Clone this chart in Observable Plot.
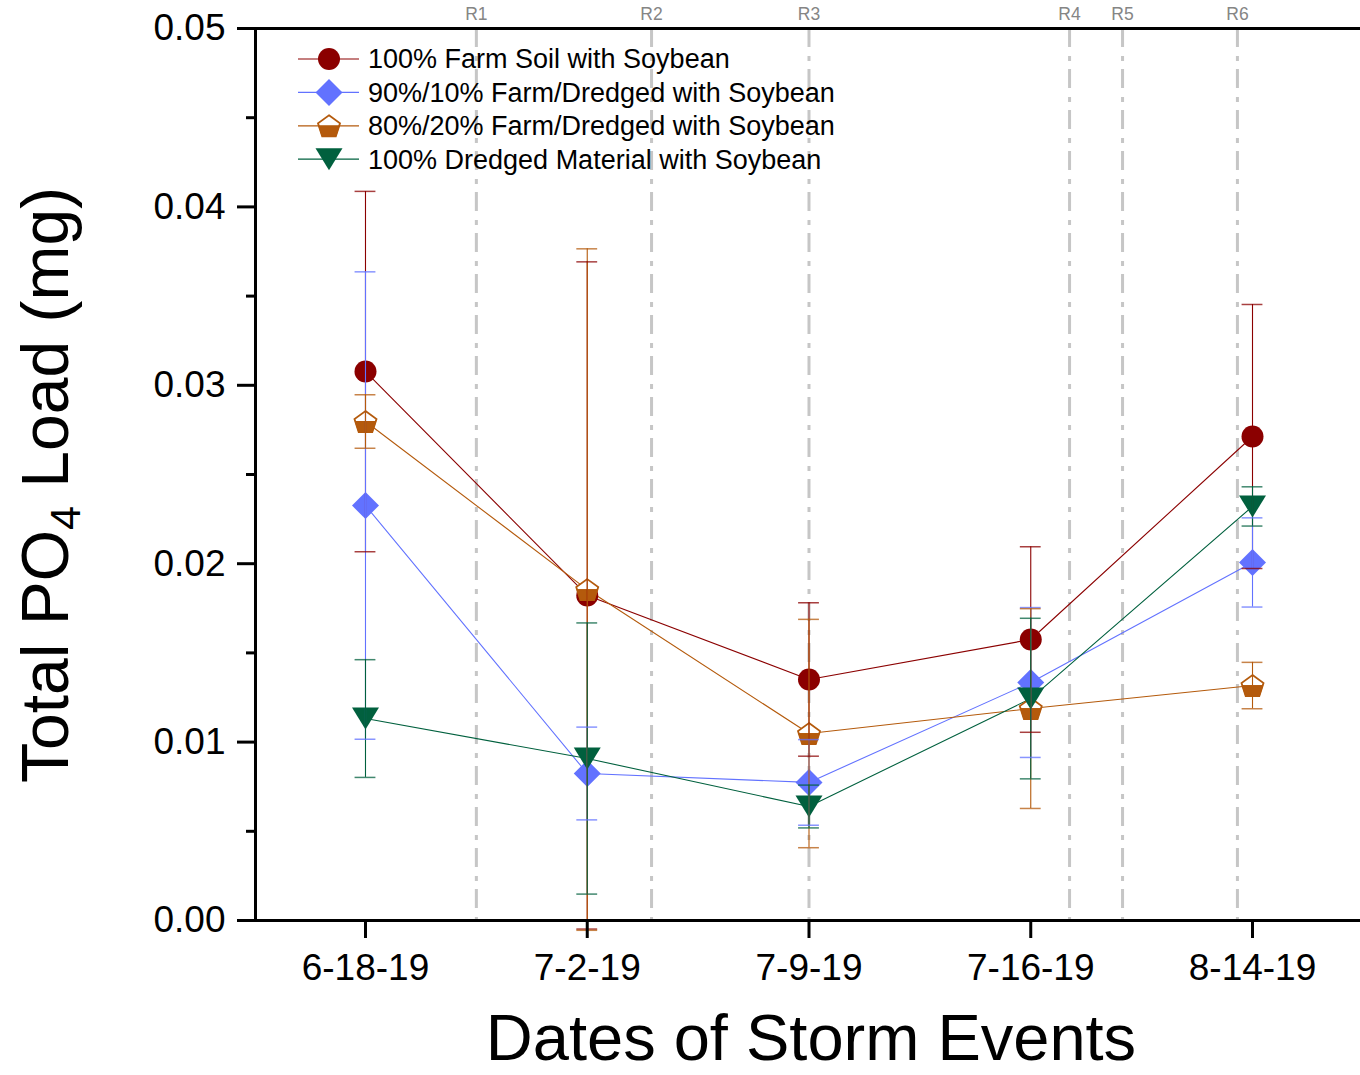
<!DOCTYPE html>
<html><head><meta charset="utf-8">
<script src="https://cdn.jsdelivr.net/npm/d3@7"></script>
<script src="https://cdn.jsdelivr.net/npm/@observablehq/plot@0.6"></script>
<style>
body{margin:0;background:#fff}
#chart{position:relative;width:1360px;height:1075px}
</style>
</head><body><div id="chart"></div>
<script>
// ---- data ----
const dates = ["6-18-19", "7-2-19", "7-9-19", "7-16-19", "8-14-19"];
const seriesNames = [
  "100% Farm Soil with Soybean",
  "90%/10% Farm/Dredged with Soybean",
  "80%/20% Farm/Dredged with Soybean",
  "100% Dredged Material with Soybean"
];
const farmMean = [0.03077, 0.01822, 0.01351, 0.01575, 0.02713];
const farmErr  = [0.0101, 0.0187, 0.0043, 0.0052, 0.0074];
const mix90Mean = [0.02326, 0.00824, 0.00774, 0.01334, 0.02007];
const mix90Err  = [0.0131, 0.0026, 0.0024, 0.0042, 0.0025];
const mix80Mean = [0.02797, 0.01855, 0.01048, 0.01188, 0.01317];
const mix80Err  = [0.0015, 0.0191, 0.0064, 0.0056, 0.0013];
const dredgedMean = [0.01132, 0.00908, 0.00639, 0.01244, 0.02321];
const dredgedErr  = [0.0033, 0.0076, 0.0012, 0.0045, 0.0011];
const rainLabels = ["R1", "R2", "R3", "R4", "R5", "R6"];
const rainPos = [0.5, 1.29, 2.0, 3.175, 3.414, 3.932];
const yTicks = [0, 0.01, 0.02, 0.03, 0.04, 0.05];
const yMinor = [0.005, 0.015, 0.025, 0.035, 0.045];

// ---- styles ----
const colors = ["#8B0000", "#6272FF", "#B45A0C", "#01603E"];
const FONT = "Liberation Sans, Arial, Helvetica, sans-serif";

const means = [farmMean, mix90Mean, mix80Mean, dredgedMean];
const errs = [farmErr, mix90Err, mix80Err, dredgedErr];
const rows = [];
seriesNames.forEach((s, k) => {
  dates.forEach((d, i) => {
    rows.push({series: s, k, i, mean: means[k][i], lo: means[k][i] - errs[k][i], hi: means[k][i] + errs[k][i]});
  });
});

// custom symbols (size = pi r^2)
const rOf = size => Math.sqrt(size / Math.PI);
const diamondSym = {draw(c, size) { const r = rOf(size); c.moveTo(0, -r); c.lineTo(r, 0); c.lineTo(0, r); c.lineTo(-r, 0); c.closePath(); }};
const triDownSym = {draw(c, size) { const r = rOf(size), h = 0.815 * r; c.moveTo(-r, -h); c.lineTo(r, -h); c.lineTo(0, h); c.closePath(); }};
const pentOutline = {draw(c, size) {
  const R = rOf(size) / 0.951, s = 0.0955 * R;
  for (let j = 0; j < 5; j++) {
    const a = -Math.PI / 2 + j * 2 * Math.PI / 5;
    const x = R * Math.cos(a), y = R * Math.sin(a) + s;
    j ? c.lineTo(x, y) : c.moveTo(x, y);
  }
  c.closePath();
}};
const pentBottom = {draw(c, size) {
  const R = rOf(size) / 0.951;
  c.moveTo(0.8817 * R, 0); c.lineTo(0.588 * R, 0.9045 * R); c.lineTo(-0.588 * R, 0.9045 * R); c.lineTo(-0.8817 * R, 0); c.closePath();
}};

const xDomain = [-0.496, 4.487];
const capW = 0.047;

const byK = k => rows.filter(d => d.k === k);

const plot = Plot.plot({
  width: 1360,
  height: 1075,
  marginLeft: 255,
  marginRight: 0,
  marginTop: 28,
  marginBottom: 155,
  style: {fontFamily: FONT, color: "#000", background: "#fff"},
  x: {domain: xDomain},
  y: {domain: [0, 0.05]},
  color: {domain: seriesNames, range: colors},
  marks: [
    Plot.ruleX(rainPos, {x: d => d, stroke: "#c6c6c6", strokeWidth: 3, strokeDasharray: "19,9,5,8"}),
    Plot.text(rainLabels, {x: (d, i) => rainPos[i], text: d => d, frameAnchor: "top", lineAnchor: "middle", dy: -14, fill: "#858585", fontSize: 17.5}),
    Plot.line(rows, {x: "i", y: "mean", z: "series", stroke: "series", strokeWidth: 1.1}),
    Plot.dot(byK(0), {x: "i", y: "mean", r: 11, fill: colors[0], stroke: "none"}),
    Plot.dot(byK(1), {x: "i", y: "mean", r: 13.5, symbol: diamondSym, fill: colors[1], stroke: "none"}),
    Plot.dot(byK(2), {x: "i", y: "mean", r: 11, symbol: pentOutline, fill: "#fff", stroke: colors[2], strokeWidth: 1.8}),
    Plot.dot(byK(2), {x: "i", y: "mean", r: 11, symbol: pentBottom, fill: colors[2], stroke: colors[2], strokeWidth: 1}),
    Plot.dot(byK(3), {x: "i", y: "mean", r: 13.5, symbol: triDownSym, fill: colors[3], stroke: "none"}),
    Plot.ruleX(rows, {x: "i", y1: "lo", y2: "hi", stroke: "series", strokeWidth: 1.1}),
    Plot.ruleY(rows, {y: "hi", x1: d => d.i - capW, x2: d => d.i + capW, stroke: "series", strokeWidth: 1.5, strokeOpacity: 0.75}),
    Plot.ruleY(rows, {y: "lo", x1: d => d.i - capW, x2: d => d.i + capW, stroke: "series", strokeWidth: 1.5, strokeOpacity: 0.75}),
    Plot.ruleY([0, 0.05], {stroke: "#000", strokeWidth: 3}),
    Plot.ruleX([xDomain[0]], {stroke: "#000", strokeWidth: 3}),
    Plot.axisY(yTicks, {tickSize: 18, tickPadding: 12, tickFormat: d3.format(".2f"), fontSize: 37, strokeWidth: 3, label: null}),
    Plot.axisY(yMinor, {tickSize: 9, tickFormat: () => "", strokeWidth: 3, label: null}),
    Plot.axisX([0, 1, 2, 3, 4], {tickSize: 18, tickPadding: 15, tickFormat: i => dates[i], fontSize: 37, strokeWidth: 3, label: null})
  ]
});

document.getElementById("chart").appendChild(plot);

// ---- titles & legend ----
const svg = d3.select(plot);
const yt = svg.append("text")
  .attr("transform", "translate(68,485) rotate(-90)")
  .attr("text-anchor", "middle")
  .attr("font-family", FONT)
  .attr("font-size", 66)
  .attr("fill", "#000");
yt.append("tspan").text("Total PO");
yt.append("tspan").attr("font-size", 43).attr("dy", 12).text("4");
yt.append("tspan").attr("dy", -12).text(" Load (mg)");

svg.append("text")
  .attr("x", 811).attr("y", 1060)
  .attr("text-anchor", "middle")
  .attr("font-family", FONT)
  .attr("font-size", 65)
  .attr("fill", "#000")
  .text("Dates of Storm Events");

const legendSyms = [
  [{sym: d3.symbolCircle, r: 11, fill: colors[0], stroke: "none"}],
  [{sym: diamondSym, r: 13.5, fill: colors[1], stroke: "none"}],
  [{sym: pentOutline, r: 11, fill: "#fff", stroke: colors[2], sw: 1.8}, {sym: pentBottom, r: 11, fill: colors[2], stroke: colors[2], sw: 1}],
  [{sym: triDownSym, r: 13.5, fill: colors[3], stroke: "none"}]
];
const lg = svg.append("g").attr("font-family", FONT).attr("text-anchor", "start");
seriesNames.forEach((name, k) => {
  const y = 59 + k * 33.4;
  const g = lg.append("g").attr("transform", `translate(0,${y})`);
  g.append("line").attr("x1", 298).attr("x2", 359).attr("y1", 0).attr("y2", 0).attr("stroke", colors[k]).attr("stroke-width", 1.2);
  legendSyms[k].forEach(s => {
    g.append("path").attr("transform", "translate(329,0)")
      .attr("d", d3.symbol(s.sym, Math.PI * s.r * s.r)())
      .attr("fill", s.fill).attr("stroke", s.stroke).attr("stroke-width", s.sw || 0);
  });
  g.append("text").attr("x", 368).attr("y", 0).attr("dy", "0.35em")
    .attr("text-anchor", "start")
    .attr("font-size", 27).attr("fill", "#000").text(name);
});
</script>
</body></html>
